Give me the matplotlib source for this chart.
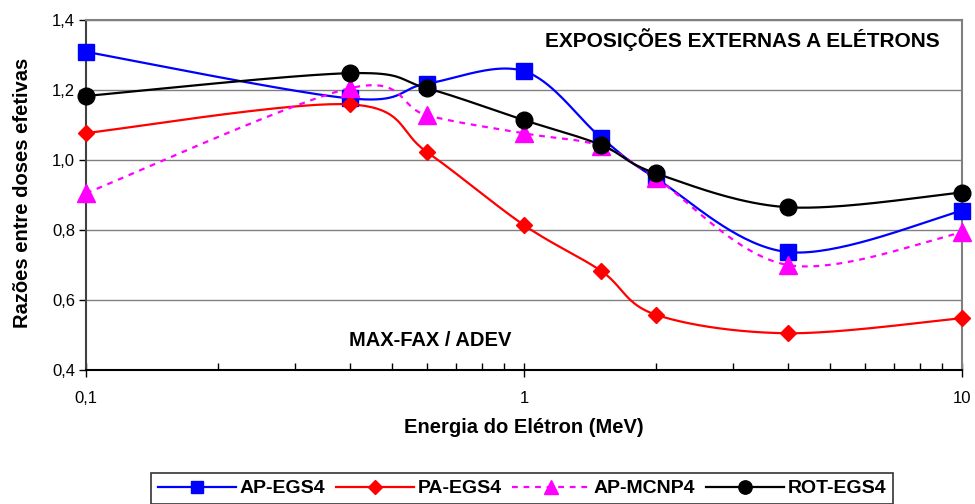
import numpy as np
import matplotlib
matplotlib.use("Agg")
import matplotlib.pyplot as plt
from matplotlib.ticker import FixedLocator, FixedFormatter, LogLocator, NullFormatter

plt.rcParams["font.family"] = ["Liberation Sans", "DejaVu Sans"]

# ── dados ─────────────────────────────────────────────
energia = [0.1, 0.4, 0.6, 1.0, 1.5, 2.0, 4.0, 10.0]
ap_egs4 = [1.309, 1.176, 1.218, 1.254, 1.064, 0.948, 0.737, 0.855]
pa_egs4 = [1.077, 1.159, 1.023, 0.814, 0.683, 0.558, 0.505, 0.548]
ap_mcnp4 = [0.905, 1.205, 1.128, 1.076, 1.040, 0.948, 0.700, 0.793]
rot_egs4 = [1.183, 1.248, 1.205, 1.114, 1.043, 0.962, 0.865, 0.907]

series = [
    ("AP-EGS4", ap_egs4, dict(color="#0000FF", marker="s", ms=11.5, ls="-")),
    ("PA-EGS4", pa_egs4, dict(color="#FF0000", marker="D", ms=8.3, ls="-")),
    ("AP-MCNP4", ap_mcnp4, dict(color="#FF00FF", marker="^", ms=12.5, ls=(0, (2.6, 2.6)))),
    ("ROT-EGS4", rot_egs4, dict(color="#000000", marker="o", ms=12, ls="-")),
]

# escala de tela (px por década / px por unidade) para suavização tipo Excel
PX_DEC = 438.0
PX_UNI = 350.0


def excel_smooth(x, y, n=40):
    """Curva suavizada tipo Excel (Bezier com tensão 1/6) em espaço de tela."""
    u = np.log10(np.asarray(x)) * PX_DEC
    v = np.asarray(y) * PX_UNI
    P = np.column_stack([u, v])
    P = np.vstack([P[0], P, P[-1]])
    t = np.linspace(0, 1, n)[:, None]
    segs = []
    for i in range(1, len(P) - 2):
        p0, p1, p2, p3 = P[i - 1], P[i], P[i + 1], P[i + 2]
        b1 = p1 + (p2 - p0) / 6.0
        b2 = p2 - (p3 - p1) / 6.0
        seg = ((1 - t) ** 3) * p1 + 3 * ((1 - t) ** 2) * t * b1 \
            + 3 * (1 - t) * t ** 2 * b2 + t ** 3 * p2
        segs.append(seg)
    c = np.vstack(segs)
    return 10 ** (c[:, 0] / PX_DEC), c[:, 1] / PX_UNI


fig = plt.figure(figsize=(9.75, 5.04), dpi=100)
ax = fig.add_axes([86 / 975, 1 - 370 / 504, (962 - 86) / 975, 350 / 504])

handles = []
for name, vals, st in series:
    xs, ys = excel_smooth(energia, vals)
    ax.plot(xs, ys, color=st["color"], lw=1.6, ls=st["ls"], zorder=3)
    ax.plot(energia, vals, ls="none", marker=st["marker"], ms=st["ms"],
            color=st["color"], mec=st["color"], zorder=4, clip_on=False)
    h, = ax.plot([], [], color=st["color"], lw=1.6, ls=st["ls"],
                 marker=st["marker"], ms=st["ms"] * 0.8, label=name)
    handles.append(h)

ax.set_xscale("log")
ax.set_xlim(0.1, 10)
ax.set_ylim(0.4, 1.4)

yt = [0.4, 0.6, 0.8, 1.0, 1.2, 1.4]
ax.yaxis.set_major_locator(FixedLocator(yt))
ax.yaxis.set_major_formatter(FixedFormatter([f"{v:.1f}".replace(".", ",") for v in yt]))
ax.xaxis.set_major_locator(FixedLocator([0.1, 1, 10]))
ax.xaxis.set_major_formatter(FixedFormatter(["0,1", "1", "10"]))
ax.xaxis.set_minor_locator(LogLocator(base=10, subs=np.arange(2, 10)))
ax.xaxis.set_minor_formatter(NullFormatter())

ax.tick_params(axis="y", direction="out", length=5, width=1, labelsize=12, pad=3)
ax.tick_params(axis="x", which="major", direction="inout", length=10, width=1,
               labelsize=12, pad=10)
ax.tick_params(axis="x", which="minor", direction="in", length=5, width=1)

ax.grid(axis="y", color="#808080", lw=1.0)
for s in ["top", "right"]:
    ax.spines[s].set_color("#808080")
    ax.spines[s].set_linewidth(1.5)
ax.spines["left"].set_color("#404040")
ax.spines["left"].set_linewidth(1.5)
ax.spines["bottom"].set_color("#000000")
ax.spines["bottom"].set_linewidth(1.5)

ax.set_xlabel("Energia do Elétron (MeV)", fontsize=14.5, fontweight="bold", labelpad=9)
ax.set_ylabel("Razões entre doses efetivas", fontsize=14.5, fontweight="bold")
ax.yaxis.set_label_coords((32 - 86) / 876, 0.506)

ax.text(0.975, 0.943, "EXPOSIÇÕES EXTERNAS A ELÉTRONS", transform=ax.transAxes,
        ha="right", va="center", fontsize=15, fontweight="bold")
ax.text(0.393, 0.083, "MAX-FAX / ADEV", transform=ax.transAxes,
        ha="center", va="center", fontsize=14.5, fontweight="bold")

leg = fig.legend(handles=handles, loc="upper left",
                 bbox_to_anchor=(151 / 975, 1 - 473 / 504), borderaxespad=0,
                 ncol=4, frameon=True, fancybox=False, handlelength=4.0,
                 columnspacing=0.55, handletextpad=0.2, borderpad=0.35,
                 prop={"weight": "bold", "size": 14})
leg.get_frame().set_edgecolor("black")
leg.get_frame().set_linewidth(1.2)

fig.savefig("out.png", dpi=100)
